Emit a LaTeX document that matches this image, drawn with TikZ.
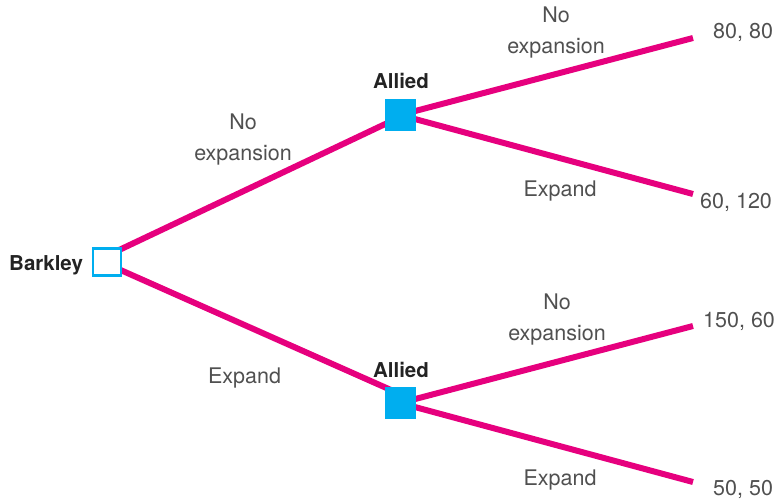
\documentclass[tikz,border=0pt]{standalone}
\usepackage{fontspec}
\setmainfont{TeX Gyre Heros}
\definecolor{pinkline}{RGB}{230,0,126}
\definecolor{cyanbox}{RGB}{0,174,239}
\definecolor{labelgray}{RGB}{80,80,80}
\definecolor{namegray}{RGB}{35,35,35}
\pgfdeclarelayer{background}
\pgfsetlayers{background,main}
\begin{document}
\begin{tikzpicture}[x=1pt,y=-1pt,
  branch/.style={draw=pinkline,line width=6pt},
  playerbox/.style={draw=cyanbox,line width=2.2pt,fill=white,minimum width=28pt,minimum height=27pt,inner sep=0pt},
  decisionbox/.style={fill=cyanbox,minimum width=31pt,minimum height=32pt,inner sep=0pt},
  namelabel/.style={font=\fontsize{20.5}{25}\selectfont\bfseries,text=namegray,inner sep=0pt},
  movelabel/.style={font=\fontsize{21.5}{31}\selectfont,text=labelgray,inner sep=0pt,align=center},
  payoff/.style={font=\fontsize{21.5}{26}\selectfont,text=labelgray,inner sep=0pt,anchor=base west}]
\useasboundingbox (0,0) rectangle (782,499);
% decision nodes
\node[playerbox] (barkley) at (107,262) {};
\node[decisionbox] (allied1) at (400,115) {};
\node[decisionbox] (allied2) at (400,403) {};
% branch ends
\coordinate (root) at (98,260);
\coordinate (ta) at (400,117);
\coordinate (ba) at (400,394);
\coordinate (e1) at (693,38);
\coordinate (e2) at (693,194);
\coordinate (e3) at (693,326);
\coordinate (e4) at (693,482);
% branches behind the boxes
\begin{pgfonlayer}{background}
\draw[branch] (root) -- (ta);
\draw[branch] (root) -- (ba);
\draw[branch] (allied1.center) -- (e1);
\draw[branch] (allied1.center) -- (e2);
\draw[branch] (allied2.center) -- (e3);
\draw[branch] (allied2.center) -- (e4);
\end{pgfonlayer}
% names
\node[namelabel,anchor=base west] (bname) at (9,270) {Barkley};
\node[namelabel,anchor=base] (aname1) at (401,88) {Allied};
\node[namelabel,anchor=base] (aname2) at (401,377) {Allied};
% move labels
\node[movelabel] (m1) at (243,140) {No\\expansion};
\node[movelabel,anchor=base] (m2) at (244.5,383) {Expand};
\node[movelabel] (m3) at (556,33) {No\\expansion};
\node[movelabel,anchor=base] (m4) at (560,196) {Expand};
\node[movelabel] (m5) at (557,319) {No\\expansion};
\node[movelabel,anchor=base] (m6) at (560,485) {Expand};
% payoffs
\node[payoff] (p1) at (713,38) {80, 80};
\node[payoff] (p2) at (700,208) {60, 120};
\node[payoff] (p3) at (703,327) {150, 60};
\node[payoff] (p4) at (713,495) {50, 50};
\end{tikzpicture}
\end{document}
